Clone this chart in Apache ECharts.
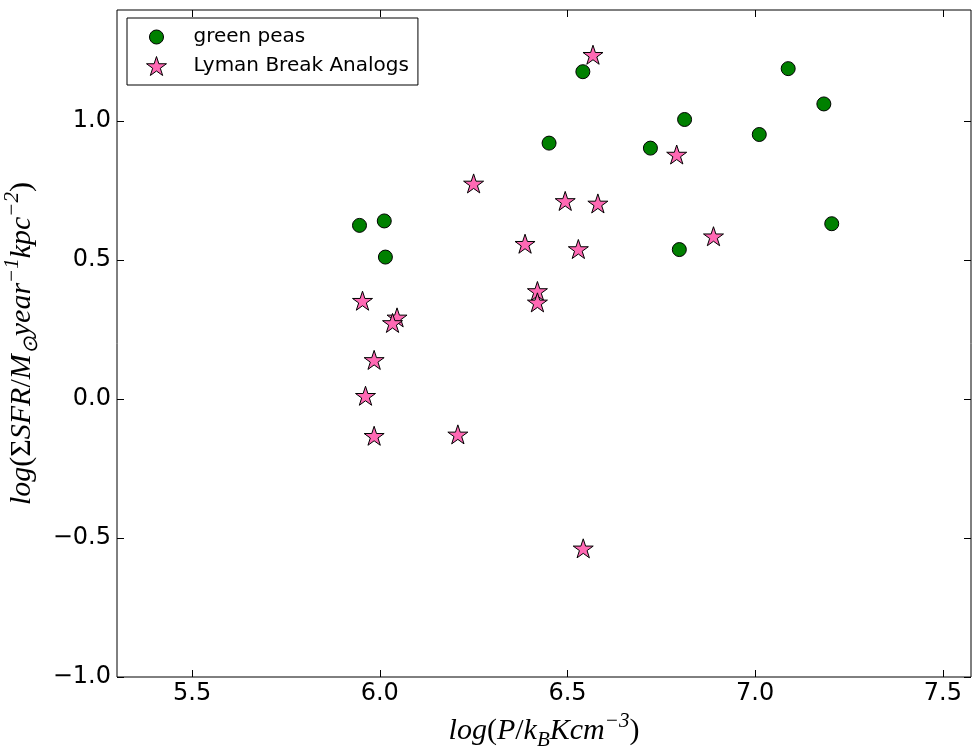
<!DOCTYPE html>
<html>
<head>
<meta charset="utf-8">
<title>SFR surface density vs pressure</title>
<script src="https://cdn.jsdelivr.net/npm/echarts@6/dist/echarts.min.js"></script>
<style>
html,body{margin:0;padding:0;background:#fff;}
#chart{width:972px;height:746px;}
</style>
</head>
<body>
<div id="chart"></div>
<script>

// =========================
// DATA
// =========================

const gpLogP   = [5.946, 6.012, 6.015, 6.451, 6.541, 6.721, 6.812, 6.798, 7.011, 7.088, 7.183, 7.204];
const gpLogSfr = [0.625, 0.641, 0.511, 0.921, 1.178, 0.903, 1.006, 0.538, 0.952, 1.189, 1.062, 0.631];

const lbaLogP   = [6.250, 6.494, 6.581, 6.387, 6.529, 6.420, 6.420, 5.954, 6.046, 6.034, 5.985, 5.962, 5.985, 6.208, 6.568, 6.791, 6.889, 6.542];
const lbaLogSfr = [0.776, 0.713, 0.704, 0.559, 0.540, 0.389, 0.348, 0.354, 0.294, 0.274, 0.141, 0.012, -0.132, -0.127, 1.239, 0.880, 0.586, -0.537];

const xTicks = [5.5, 6.0, 6.5, 7.0, 7.5];
const yTicks = [-1.0, -0.5, 0.0, 0.5, 1.0];

const seriesNames = ["green peas", "Lyman Break Analogs"];


// =========================
// HELPERS
// =========================

const STAR = "path://M100,0 L122.45,69.1 L195.1,69.1 L136.33,111.8 L158.78,180.9 L100,138.2 L41.22,180.9 L63.67,111.8 L4.9,69.1 L77.55,69.1 Z";

// circle with empty margin so the legend icon stays smaller than the star
const DOT = "path://M0,0 L0,0 M100,100 L100,100 M13,50 A37,37 0 1,0 87,50 A37,37 0 1,0 13,50 Z";

const gpStyle  = {color:"#008000", borderColor:"#000", borderWidth:1, opacity:1};
const lbaStyle = {color:"#ff69b4", borderColor:"#000", borderWidth:1, opacity:1};

function fmt(v){
    const s = Math.abs(v).toFixed(1);
    return (v < -1e-9 ? "\u2212" : "") + s;
}

function zip(a, b){
    return a.map((v, i) => [v, b[i]]);
}

const serif = "Liberation Serif";

const mathRich = {
    a:  {fontFamily:serif, fontStyle:"italic", fontSize:30, color:"#000", lineHeight:40},
    up: {fontFamily:serif, fontSize:30, color:"#000", lineHeight:40},
    sup:{fontFamily:serif, fontStyle:"italic", fontSize:21, color:"#000", verticalAlign:"top", lineHeight:40, padding:[0,0,16,0]},
    sub:{fontFamily:serif, fontStyle:"italic", fontSize:21, color:"#000", verticalAlign:"bottom", lineHeight:40, padding:[8,0,0,0]}
};

const tickLabel = {
    fontFamily:"DejaVu Sans",
    fontSize:24,
    color:"#000"
};

const tickStyle = {inside:true, length:7, lineStyle:{color:"#000"}};


// =========================
// CHART
// =========================

const chart = echarts.init(document.getElementById("chart"));

chart.setOption({

    animation:false,
    backgroundColor:"#fff",

    grid:{
        left:117,
        right:1,
        top:10,
        bottom:69,
        show:true,
        borderColor:"#000",
        borderWidth:1,
        containLabel:false,
        outerBoundsMode:"none"
    },

    legend:{
        left:127,
        top:18,
        orient:"vertical",
        data:[
            {name:seriesNames[0], icon:DOT, itemStyle:gpStyle},
            {name:seriesNames[1], icon:STAR, itemStyle:lbaStyle}
        ],
        backgroundColor:"#fff",
        borderColor:"#000",
        borderWidth:1,
        borderRadius:0,
        padding:[9,9,9,19],
        itemWidth:20,
        itemHeight:19,
        itemGap:9,
        textStyle:{
            fontFamily:"DejaVu Sans",
            fontSize:20,
            color:"#000",
            padding:[0,0,0,22]
        }
    },

    xAxis:[
        {
            type:"value",
            min:5.3,
            max:7.575,
            name:"{a|log}{up|(}{a|P}{up|/}{a|k}{sub|B}{a|Kcm}{sup|\u22123}{up|)}",
            nameLocation:"middle",
            nameGap:33,
            nameTextStyle:{rich:mathRich},
            axisLine:{show:false, onZero:false},
            splitLine:{show:false},
            axisTick:{...tickStyle, customValues:xTicks},
            axisLabel:{customValues:xTicks, formatter:fmt, margin:5, ...tickLabel}
        },
        {
            type:"value",
            position:"top",
            min:5.3,
            max:7.575,
            axisLine:{show:false, onZero:false},
            splitLine:{show:false},
            axisTick:{...tickStyle, customValues:xTicks},
            axisLabel:{show:false}
        }
    ],

    yAxis:[
        {
            type:"value",
            min:-1.0,
            max:1.4,
            name:"{a|log}{up|(\u03A3}{a|SFR}{up|/}{a|M}{sub|\u2299}{a|year}{sup|\u22121}{a|kpc}{sup|\u22122}{up|)}",
            nameLocation:"middle",
            nameRotate:90,
            nameGap:70,
            nameTextStyle:{rich:mathRich},
            axisLine:{show:false, onZero:false},
            splitLine:{show:false},
            axisTick:{...tickStyle, customValues:yTicks},
            axisLabel:{customValues:yTicks, formatter:fmt, margin:6, ...tickLabel}
        },
        {
            type:"value",
            position:"right",
            min:-1.0,
            max:1.4,
            axisLine:{show:false, onZero:false},
            splitLine:{show:false},
            axisTick:{...tickStyle, customValues:yTicks},
            axisLabel:{show:false}
        }
    ],

    series:[
        {
            name:seriesNames[0],
            type:"scatter",
            symbol:"circle",
            symbolSize:14,
            itemStyle:gpStyle,
            data:zip(gpLogP, gpLogSfr)
        },
        {
            name:seriesNames[1],
            type:"scatter",
            symbol:STAR,
            symbolKeepAspect:true,
            symbolSize:20,
            itemStyle:lbaStyle,
            data:zip(lbaLogP, lbaLogSfr)
        }
    ]

});

</script>
</body>
</html>
